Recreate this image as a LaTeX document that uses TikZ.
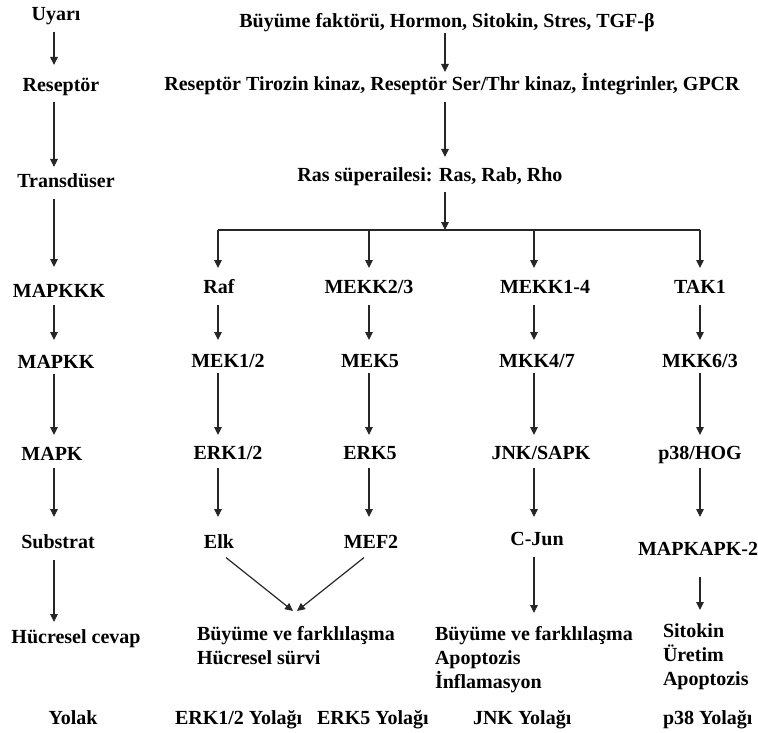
\documentclass[tikz,border=0pt]{standalone}
\usepackage{fontspec}
\setmainfont{Liberation Serif}
\usetikzlibrary{arrows.meta}
\begin{document}
\begin{tikzpicture}[x=1pt,y=-1pt,
  lbl/.style={font=\bfseries\fontsize{20}{24}\selectfont, inner sep=0pt, outer sep=0pt,
              text height=13.5pt, text depth=4pt, anchor=base},
  resbox/.style={font=\bfseries\fontsize{20}{24}\selectfont, inner sep=0pt, outer sep=0pt,
              align=left, anchor=north west},
  arr/.style={draw=black!85, line width=1.2pt, -{Triangle[length=8pt,width=7.5pt]},
              shorten <=5pt, shorten >=12pt},
  ln/.style={draw=black!85, line width=1.2pt}]
\useasboundingbox (0,0) rectangle (758,733);

% left column
\coordinate (lx) at (54,0);
\node[lbl] (u1) at (56,21) {Uyarı};
\node[lbl] (u2) at (61,92) {Reseptör};
\node[lbl] (u3) at (66,187) {Transdüser};
\node[lbl] (u4) at (59,297) {MAPKKK};
\node[lbl] (u5) at (56,368) {MAPKK};
\node[lbl] (u6) at (52,460) {MAPK};
\node[lbl] (u7) at (58,548) {Substrat};
\node[lbl] (u8) at (76,643) {Hücresel cevap};
\node[lbl] (u9) at (73,724) {Yolak};

\draw[arr, shorten <=7pt, shorten >=13.5pt] (u1.south -| lx) -- (u2.north -| lx);
\draw[arr, shorten <=6pt, shorten >=6.5pt] (u2.south -| lx) -- (u3.north -| lx);
\draw[arr, shorten <=8pt, shorten >=16.5pt] (u3.south -| lx) -- (u4.north -| lx);
\draw[arr, shorten <=4pt, shorten >=14.5pt] (u4.south -| lx) -- (u5.north -| lx);
\draw[arr, shorten <=2pt, shorten >=11.5pt] (u5.south -| lx) -- (u6.north -| lx);
\draw[arr, shorten <=4pt, shorten >=17.5pt] (u6.south -| lx) -- (u7.north -| lx);
\draw[arr, shorten <=8pt, shorten >=7.5pt] (u7.south -| lx) -- (u8.north -| lx);

% main column
\coordinate (mx) at (445,0);
\node[lbl] (m1) at (447,28) {Büyüme faktörü, Hormon, Sitokin, Stres, TGF-β};
\node[lbl] (m2) at (452,91) {Reseptör Tirozin kinaz, Reseptör Ser/Thr kinaz, İntegrinler, GPCR};
\node[lbl] (m3) at (430,182) {Ras süperailesi: Ras, Rab, Rho};
\coordinate (br) at (445,230);

\draw[arr, shorten <=1pt, shorten >=5.5pt] (m1.south -| mx) -- (m2.north -| mx);
\draw[arr, shorten <=7pt, shorten >=11.5pt] (m2.south -| mx) -- (m3.north -| mx);
\draw[arr, shorten <=6pt, shorten >=0pt] (m3.south -| mx) -- (br);

% column x positions
\coordinate (c1) at (218,0);
\coordinate (c2) at (369,0);
\coordinate (c3) at (534,0);
\coordinate (c4) at (700,0);

% MAPKKK row
\node[lbl] (a1) at (219,293) {Raf};
\node[lbl] (a2) at (369,293) {MEKK2/3};
\node[lbl] (a3) at (545,293) {MEKK1-4};
\node[lbl] (a4) at (700,293) {TAK1};
% MAPKK row
\node[lbl] (b1) at (228,367) {MEK1/2};
\node[lbl] (b2) at (370,367) {MEK5};
\node[lbl] (b3) at (537,367) {MKK4/7};
\node[lbl] (b4) at (700,367) {MKK6/3};
% MAPK row
\node[lbl] (d1) at (228,459) {ERK1/2};
\node[lbl] (d2) at (370,459) {ERK5};
\node[lbl] (d3) at (541,459) {JNK/SAPK};
\node[lbl] (d4) at (700,459) {p38/HOG};
% Substrate row
\node[lbl] (e1) at (219,548) {Elk};
\node[lbl] (e2) at (371,548) {MEF2};
\node[lbl] (e3) at (537,545) {C-Jun};
\node[lbl] (e4) at (698,555) {MAPKAPK-2};

% branch line
\draw[ln] (br -| c1) -- (br -| c4);
\draw[arr, shorten <=0pt, shorten >=11.5pt] (br -| c1) -- (a1.north -| c1);
\draw[arr, shorten <=0pt, shorten >=11.5pt] (br -| c2) -- (a2.north -| c2);
\draw[arr, shorten <=0pt, shorten >=11.5pt] (br -| c3) -- (a3.north -| c3);
\draw[arr, shorten <=0pt, shorten >=11.5pt] (br -| c4) -- (a4.north -| c4);

% MAPKKK -> MAPKK
\draw[arr, shorten <=8pt, shorten >=13.5pt] (a1.south -| c1) -- (b1.north -| c1);
\draw[arr, shorten <=8pt, shorten >=13.5pt] (a2.south -| c2) -- (b2.north -| c2);
\draw[arr, shorten <=8pt, shorten >=13.5pt] (a3.south -| c3) -- (b3.north -| c3);
\draw[arr, shorten <=8pt, shorten >=13.5pt] (a4.south -| c4) -- (b4.north -| c4);
% MAPKK -> MAPK
\draw[arr, shorten <=2pt, shorten >=10.5pt] (b1.south -| c1) -- (d1.north -| c1);
\draw[arr, shorten <=2pt, shorten >=10.5pt] (b2.south -| c2) -- (d2.north -| c2);
\draw[arr, shorten <=2pt, shorten >=10.5pt] (b3.south -| c3) -- (d3.north -| c3);
\draw[arr, shorten <=2pt, shorten >=10.5pt] (b4.south -| c4) -- (d4.north -| c4);
% MAPK -> substrate
\draw[arr, shorten <=5pt, shorten >=17.5pt] (d1.south -| c1) -- (e1.north -| c1);
\draw[arr, shorten <=5pt, shorten >=17.5pt] (d2.south -| c2) -- (e2.north -| c2);
\draw[arr, shorten <=5pt, shorten >=14.5pt] (d3.south -| c3) -- (e3.north -| c3);
\draw[arr, shorten <=5pt, shorten >=24.5pt] (d4.south -| c4) -- (e4.north -| c4);

% outcomes
\node[resbox] (f1) at (197,626) {Büyüme ve farklılaşma\\Hücresel sürvi};
\node[resbox] (f3) at (435,626) {Büyüme ve farklılaşma\\Apoptozis\\İnflamasyon};
\node[resbox] (f4) at (663,624) {Sitokin\\Üretim\\Apoptozis};

\coordinate (g1) at (293,611);
\coordinate (g2) at (297,611);
\draw[arr, shorten <=9pt, shorten >=0pt] (e1.south) -- (g1);
\draw[arr, shorten <=9pt, shorten >=0pt] (e2.south) -- (g2);
\draw[arr, shorten <=8pt, shorten >=13pt] (e3.south -| c3) -- (f3.north -| c3);
\draw[arr, shorten <=18pt, shorten >=14pt] (e4.south -| c4) -- (f4.north -| c4);

% pathway names
\node[lbl, anchor=base west] (p1) at (175,724) {ERK1/2 Yolağı};
\node[lbl, anchor=base west] (p2) at (317,724) {ERK5 Yolağı};
\node[lbl, anchor=base west] (p3) at (473,724) {JNK Yolağı};
\node[lbl, anchor=base west] (p4) at (663,724) {p38 Yolağı};
\end{tikzpicture}
\end{document}
